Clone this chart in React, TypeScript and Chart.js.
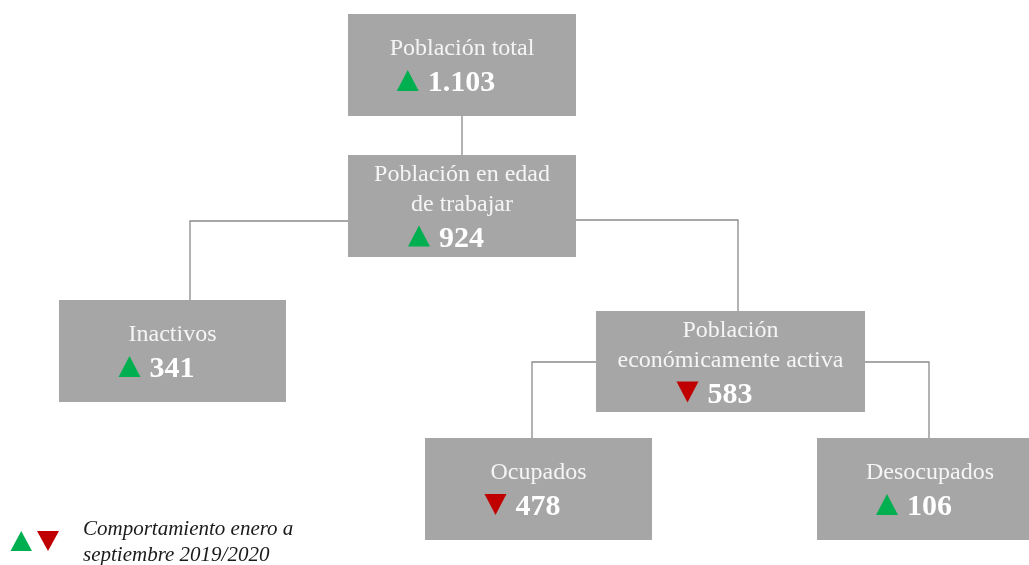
import React, { useEffect, useRef } from "react";
import { Chart, registerables } from "chart.js";

Chart.register(...registerables);

// ---- data ----
const nodeLabels: string[][] = [
  ["Población total"],
  ["Población en edad", "de trabajar"],
  ["Inactivos"],
  ["Población", "económicamente activa"],
  ["Ocupados"],
  ["Desocupados"],
];
const nodeValues: number[] = [1103, 924, 341, 583, 478, 106];
const nodeTrend: string[] = ["up", "up", "up", "down", "down", "up"];
const nodeParent: number[] = [-1, 0, 1, 1, 3, 3];
const legendText: string[] = ["Comportamiento enero a", "septiembre 2019/2020"];

// ---- layout (positions in axis units) ----
const boxLayout = [
  { x0: 348, x1: 576, y0: 14, y1: 116, linkX: 462, linkY: null as number | null },
  { x0: 348, x1: 576, y0: 155, y1: 257, linkX: 462, linkY: null as number | null },
  { x0: 59, x1: 286, y0: 300, y1: 402, linkX: 190, linkY: 221 },
  { x0: 596, x1: 865, y0: 311, y1: 412, linkX: 738, linkY: 220 },
  { x0: 425, x1: 652, y0: 438, y1: 540, linkX: 532, linkY: 362 },
  { x0: 817, x1: 1043, y0: 438, y1: 540, linkX: 929, linkY: 362 },
];

const BOX = "#a6a6a6";
const GREEN = "#00b050";
const RED = "#c00000";
const LINE = "#8a8a8a";
const FONT = "'Liberation Serif', 'Times New Roman', serif";

function fmt(n: number): string {
  return String(n).replace(/\B(?=(\d{3})+(?!\d))/g, ".");
}

function tri(ctx: CanvasRenderingContext2D, x0: number, x1: number, yTop: number, yBot: number, up: boolean, color: string) {
  ctx.beginPath();
  if (up) {
    ctx.moveTo((x0 + x1) / 2, yTop);
    ctx.lineTo(x1, yBot);
    ctx.lineTo(x0, yBot);
  } else {
    ctx.moveTo(x0, yTop);
    ctx.lineTo(x1, yTop);
    ctx.lineTo((x0 + x1) / 2, yBot);
  }
  ctx.closePath();
  ctx.fillStyle = color;
  ctx.fill();
}

const treePlugin = {
  id: "treePlugin",
  afterDatasetsDraw(chart: any) {
    const ctx: CanvasRenderingContext2D = chart.ctx;
    const xs = chart.scales.x;
    const ys = chart.scales.y;
    const X = (v: number) => xs.getPixelForValue(v);
    const Y = (v: number) => ys.getPixelForValue(v);
    ctx.save();

    // connectors
    ctx.strokeStyle = LINE;
    ctx.lineWidth = 1.3;
    nodeParent.forEach((p, i) => {
      if (p < 0) return;
      const c = boxLayout[i];
      const pb = boxLayout[p];
      ctx.beginPath();
      if (c.linkY === null) {
        ctx.moveTo(X(c.linkX), Y(pb.y1));
        ctx.lineTo(X(c.linkX), Y(c.y0));
      } else {
        const side = c.linkX < (pb.x0 + pb.x1) / 2 ? pb.x0 : pb.x1;
        ctx.moveTo(X(side), Y(c.linkY));
        ctx.lineTo(X(c.linkX), Y(c.linkY));
        ctx.lineTo(X(c.linkX), Y(c.y0));
      }
      ctx.stroke();
    });

    // boxes
    nodeLabels.forEach((lines, i) => {
      const b = boxLayout[i];
      ctx.fillStyle = BOX;
      ctx.fillRect(X(b.x0), Y(b.y0), X(b.x1) - X(b.x0), Y(b.y1) - Y(b.y0));
      const cx = X((b.x0 + b.x1) / 2);
      const firstBase = Y(b.y0 + 41 - (lines.length - 1) * 15);
      ctx.fillStyle = "#f5f5f5";
      ctx.font = `24px ${FONT}`;
      ctx.textAlign = "center";
      ctx.textBaseline = "alphabetic";
      lines.forEach((t, k) => ctx.fillText(t, cx, firstBase + k * 29.5));
      const numBase = firstBase + (lines.length - 1) * 29.5 + 36;
      const txt = fmt(nodeValues[i]);
      ctx.font = `bold 30px ${FONT}`;
      const tw = ctx.measureText(txt).width;
      const triW = 22;
      const gap = 9;
      const gw = triW + gap + tw;
      const start = cx - 16 - gw / 2;
      const up = nodeTrend[i] === "up";
      tri(ctx, start, start + triW, numBase - 21, numBase, up, up ? GREEN : RED);
      ctx.fillStyle = "#ffffff";
      ctx.textAlign = "left";
      ctx.fillText(txt, start + triW + gap, numBase);
    });

    // legend
    tri(ctx, X(10.5), X(32), Y(531), Y(551), true, GREEN);
    tri(ctx, X(37), X(59), Y(531), Y(551), false, RED);
    ctx.fillStyle = "#1a1a1a";
    ctx.font = `italic 21px ${FONT}`;
    ctx.textAlign = "left";
    legendText.forEach((t, k) => ctx.fillText(t, X(83), Y(535 + k * 26)));

    ctx.restore();
  },
};

export default function App() {
  const ref = useRef<HTMLCanvasElement | null>(null);
  useEffect(() => {
    if (!ref.current) return;
    const chart = new Chart(ref.current, {
      type: "scatter",
      data: {
        datasets: [
          {
            data: boxLayout.map((b) => ({ x: (b.x0 + b.x1) / 2, y: (b.y0 + b.y1) / 2 })),
            pointRadius: 0,
            pointHoverRadius: 0,
          },
        ],
      },
      options: {
        animation: false,
        responsive: false,
        events: [],
        layout: { padding: 0 },
        scales: {
          x: { type: "linear", min: 0, max: 1029, display: false },
          y: { type: "linear", min: 0, max: 565, reverse: true, display: false },
        },
        plugins: { legend: { display: false }, tooltip: { enabled: false } },
      },
      plugins: [treePlugin],
    });
    return () => chart.destroy();
  }, []);
  return (
    <div style={{ position: "absolute", left: 0, top: 0, width: 1029, height: 565, background: "#fff" }}>
      <canvas ref={ref} width={1029} height={565} style={{ width: 1029, height: 565, display: "block" }} />
    </div>
  );
}
